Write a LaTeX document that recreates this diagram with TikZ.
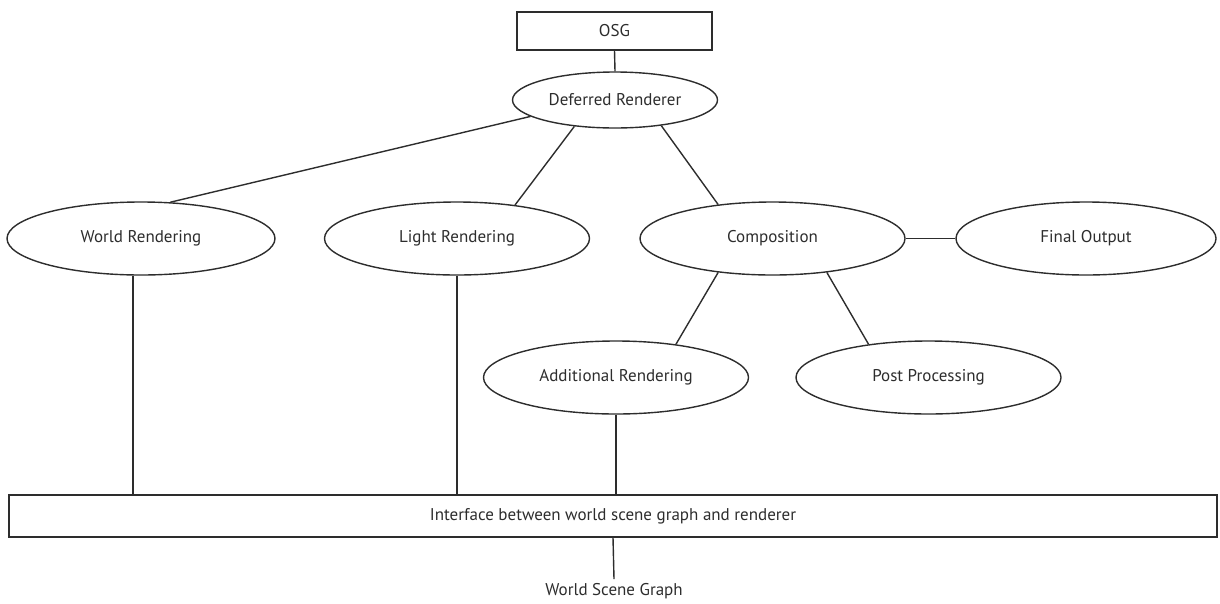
\documentclass[tikz,border=0pt]{standalone}
\usepackage{fontspec}
\setmainfont{PT Sans}
\usetikzlibrary{shapes.geometric}
\definecolor{ink}{RGB}{45,45,45}
\begin{document}
\begin{tikzpicture}[x=1pt,y=-1pt,
  every node/.style={text=ink,font=\fontsize{17}{20}\selectfont},
  conn/.style={draw=ink,line width=1.4pt},
  block/.style={draw=ink,line width=1.4pt,rectangle,inner sep=0pt},
  oval/.style={draw=ink,line width=1.4pt,ellipse,inner sep=0pt,
    minimum width=265pt,minimum height=73pt}]
\useasboundingbox (0,0) rectangle (1220,603);

% top of the hierarchy
\node[block,minimum width=195pt,minimum height=38pt] (osg) at (614.5,31) {OSG};
\node[oval,minimum width=205pt,minimum height=56pt] (dr) at (615,100) {Deferred Renderer};

% render stages
\node[oval,minimum width=268pt] (wr) at (141,238.5) {World Rendering};
\node[oval] (lr) at (457,238.5) {Light Rendering};
\node[oval] (co) at (772.5,238.5) {Composition};
\node[oval,minimum width=260pt] (fo) at (1086,238.5) {Final Output};
\node[oval] (ar) at (616,377.5) {Additional Rendering};
\node[oval] (pp) at (928.5,377.5) {Post Processing};

% interface layer and scene graph
\node[block,minimum width=1208pt,minimum height=42pt] (if) at (613,516)
  {Interface between world scene graph and renderer};
\node[inner sep=4pt] (wsg) at (614,591) {World Scene Graph};

% connectors
\draw[conn] (osg.south) -- (dr.north);
\draw[conn] (dr.191) -- (wr.51);
\draw[conn] (dr.213) -- (lr.30);
\draw[conn] (dr.331) -- (co.148);
\draw[conn] (co.east) -- (fo.west);
\draw[conn] (co.212) -- (ar.29);
\draw[conn] (co.328) -- (pp.151);
\draw[conn] (wr.258) -- (wr.258 |- if.north);
\draw[conn] (lr.south) -- (lr.south |- if.north);
\draw[conn] (ar.south) -- (ar.south |- if.north);
\draw[conn] (if.south) -- (wsg.north);
\end{tikzpicture}
\end{document}
